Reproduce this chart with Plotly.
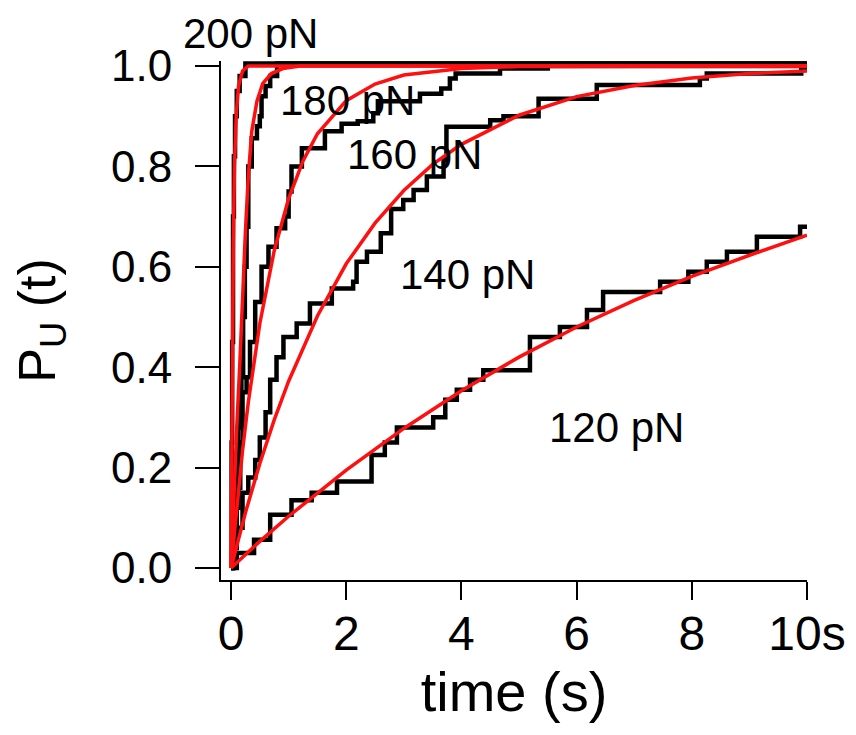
import plotly.graph_objects as go

t_200 = [0, 0.01, 0.02, 0.035, 0.05, 0.07, 0.1, 0.15, 0.25, 10]
p_200 = [0, 0.25, 0.45, 0.7, 0.82, 0.9, 0.95, 0.98, 1.005, 1.005]

t_180 = [0, 0.03, 0.06, 0.09, 0.12, 0.15, 0.18, 0.21, 0.24, 0.27, 0.3, 0.36, 0.45, 0.5, 0.53, 0.6, 0.68, 0.8, 10]
p_180 = [0, 0.06, 0.14, 0.22, 0.28, 0.33, 0.38, 0.5, 0.6, 0.68, 0.8, 0.856, 0.88, 0.9, 0.94, 0.96, 0.98, 1.005, 1.005]

t_160 = [0, 0.03, 0.06, 0.1, 0.13, 0.16, 0.2, 0.27, 0.33, 0.42, 0.53, 0.65, 0.79, 0.94, 1.0, 1.05, 1.23,
         1.63, 1.92, 2.2, 2.47, 2.55, 3.28, 3.65, 3.8, 3.9, 4.67, 5.5, 10]
p_160 = [0, 0.04, 0.08, 0.12, 0.16, 0.25, 0.35, 0.38, 0.45, 0.53, 0.6, 0.64, 0.677, 0.7, 0.75, 0.8, 0.836,
         0.87, 0.885, 0.89, 0.906, 0.93, 0.945, 0.955, 0.975, 0.985, 0.995, 1.0, 1.0]

t_140 = [0, 0.05, 0.1, 0.2, 0.3, 0.42, 0.5, 0.6, 0.68, 0.79, 0.91, 1.14, 1.37, 1.75, 2.12, 2.18, 2.36, 2.6,
         2.78, 2.99, 3.17, 3.4, 3.69, 3.74, 4.5, 4.73, 5.34, 6.35, 8.14, 8.26, 9.9, 10]
p_140 = [0, 0.04, 0.08, 0.15, 0.18, 0.215, 0.26, 0.31, 0.375, 0.42, 0.46, 0.487, 0.527, 0.557, 0.57, 0.61, 0.63, 0.667,
         0.715, 0.733, 0.753, 0.78, 0.813, 0.879, 0.892, 0.9, 0.935, 0.962, 0.975, 0.985, 0.995, 0.995]

t_120 = [0, 0.1, 0.4, 0.68, 1.05, 1.4, 1.84, 2.44, 2.67, 2.88, 3.51, 3.72, 3.92, 4.15, 4.38, 5.19, 5.71,
         6.18, 6.46, 7.45, 7.94, 8.26, 8.61, 9.13, 9.88, 10]
p_120 = [0, 0.03, 0.056, 0.106, 0.135, 0.15, 0.172, 0.225, 0.25, 0.28, 0.30, 0.335, 0.355, 0.375, 0.394, 0.46, 0.48,
         0.514, 0.55, 0.57, 0.59, 0.61, 0.63, 0.66, 0.68, 0.68]

# Fitted curves (red)
fit_t_200 = [0, 0.01, 0.02, 0.04, 0.06, 0.09, 0.13, 0.2, 0.3, 10]
fit_p_200 = [0, 0.22, 0.4, 0.65, 0.8, 0.9, 0.96, 0.99, 1.0, 1.0]

fit_t_180 = [0, 0.05, 0.1, 0.15, 0.2, 0.25, 0.3, 0.36, 0.45, 0.55, 0.7, 0.9, 1.2, 10]
fit_p_180 = [0, 0.15, 0.28, 0.4, 0.55, 0.67, 0.78, 0.87, 0.93, 0.965, 0.985, 0.995, 1.0, 1.0]

fit_t_160 = [0, 0.1, 0.2, 0.3, 0.5, 0.75, 1, 1.25, 1.5, 2, 2.5, 3, 4, 5, 7, 10]
fit_p_160 = [0, 0.125, 0.234, 0.33, 0.487, 0.632, 0.736, 0.811, 0.865, 0.931, 0.964, 0.982, 0.995, 0.999, 1, 1]

fit_t_140 = [0, 0.25, 0.5, 0.75, 1, 1.5, 2, 2.5, 3, 3.5, 4, 5, 6, 7, 8, 9, 10]
fit_p_140 = [0, 0.11, 0.208, 0.295, 0.372, 0.502, 0.606, 0.687, 0.752, 0.804, 0.844, 0.902, 0.939, 0.961, 0.976, 0.985, 0.99]

fit_t_120 = [0, 0.5, 1, 2, 3, 4, 5, 6, 7, 8, 9, 10]
fit_p_120 = [0, 0.053, 0.103, 0.195, 0.278, 0.353, 0.42, 0.48, 0.533, 0.581, 0.623, 0.663]

# force labels and where they sit (time, P)
labels = ["200 pN", "180 pN", "160 pN", "140 pN", "120 pN"]
label_t = [0.33, 2.03, 3.19, 4.10, 6.70]
label_p = [1.064, 0.932, 0.823, 0.584, 0.279]

FONT = "Liberation Sans, Arial, sans-serif"
Y_LO, Y_HI = -0.024, 1.01

fig = go.Figure()

for tt, pp in [(t_120, p_120), (t_140, p_140), (t_160, p_160), (t_180, p_180), (t_200, p_200)]:
    fig.add_trace(go.Scatter(x=tt, y=pp, mode="lines", line=dict(color="black", width=4.5, shape="hv"),
                             showlegend=False))

for tt, pp in [(fit_t_120, fit_p_120), (fit_t_140, fit_p_140), (fit_t_160, fit_p_160),
               (fit_t_180, fit_p_180), (fit_t_200, fit_p_200)]:
    fig.add_trace(go.Scatter(x=tt, y=pp, mode="lines", line=dict(color="#ff1010", width=3.5),
                             showlegend=False))

# labels placed in paper y so the one above the axes is not hidden
for txt, tx, py in zip(labels, label_t, label_p):
    fig.add_annotation(x=tx, xref="x", y=(py - Y_LO) / (Y_HI - Y_LO), yref="paper",
                       xanchor="center", yanchor="middle", borderpad=0,
                       text=txt, showarrow=False,
                       font=dict(family=FONT, size=42, color="black"))

# the page body adds an 8px offset, margins below account for it
fig.update_layout(
    width=856, height=735,
    margin=dict(l=213, r=57, t=53, b=163),
    plot_bgcolor="white", paper_bgcolor="white",
    font=dict(family=FONT, color="black"),
)

fig.update_xaxes(
    range=[-0.174, 10], showgrid=False, zeroline=False, automargin=False,
    showline=True, linecolor="black", linewidth=2,
    ticks="outside", ticklen=18, tickwidth=2, tickcolor="black",
    tickvals=[0, 2, 4, 6, 8, 10], ticktext=["0", "2", "4", "6", "8", "10s"],
    ticklabelstandoff=-8,
    tickfont=dict(size=48), title=dict(text="time (s)", font=dict(size=56), standoff=2),
)
fig.update_yaxes(
    range=[Y_LO, Y_HI], showgrid=False, zeroline=False, automargin=False,
    showline=True, linecolor="black", linewidth=2,
    ticks="outside", ticklen=24, tickwidth=2, tickcolor="black",
    tickvals=[0, 0.2, 0.4, 0.6, 0.8, 1.0], tickformat=".1f",
    ticklabelstandoff=14,
    tickfont=dict(size=44), title=dict(text="P<sub>U</sub> (t)", font=dict(size=52), standoff=44),
)

fig.write_html("out.html")
